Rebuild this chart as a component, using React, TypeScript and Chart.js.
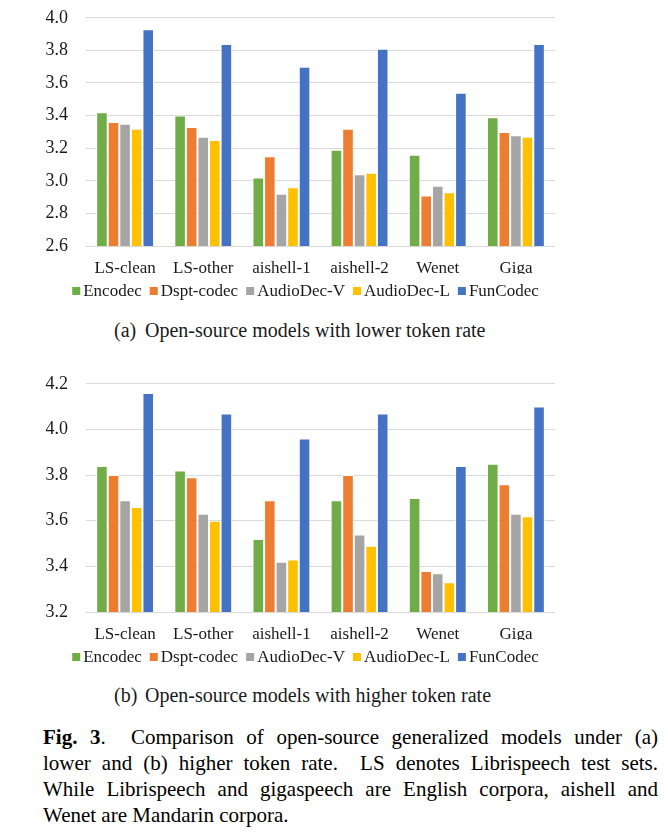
import React, { useEffect, useRef } from "react";
import { Chart, registerables } from "chart.js";
Chart.register(...registerables);

const categories = ["LS-clean", "LS-other", "aishell-1", "aishell-2", "Wenet", "Giga"];
const seriesNames = ["Encodec", "Dspt-codec", "AudioDec-V", "AudioDec-L", "FunCodec"];
const seriesColors = ["#70AD47", "#ED7D31", "#A5A5A5", "#FFC000", "#4472C4"];

// (a) lower token rate
const lowEncodec = [3.42, 3.4, 3.02, 3.19, 3.16, 3.39];
const lowDspt = [3.36, 3.33, 3.15, 3.32, 2.91, 3.3];
const lowAudioDecV = [3.35, 3.27, 2.92, 3.04, 2.97, 3.28];
const lowAudioDecL = [3.32, 3.25, 2.96, 3.05, 2.93, 3.27];
const lowFunCodec = [3.93, 3.84, 3.7, 3.81, 3.54, 3.84];

// (b) higher token rate
const highEncodec = [3.84, 3.82, 3.52, 3.69, 3.7, 3.85];
const highDspt = [3.8, 3.79, 3.69, 3.8, 3.38, 3.76];
const highAudioDecV = [3.69, 3.63, 3.42, 3.54, 3.37, 3.63];
const highAudioDecL = [3.66, 3.6, 3.43, 3.49, 3.33, 3.62];
const highFunCodec = [4.16, 4.07, 3.96, 4.07, 3.84, 4.1];

const lowRange = [2.6, 4.0];
const highRange = [3.2, 4.2];

const FONT = '"Liberation Serif", "Times New Roman", serif';
const TEXT = "#1a1a1a";

// compact legend drawn on the canvas (small square, tight gap)
const compactLegend = {
  id: "compactLegend",
  afterDraw(chart: any) {
    const ctx = chart.ctx;
    const size = 17;
    const box = 8;
    const gap = 3;
    const between = 8;
    ctx.save();
    ctx.font = `${size}px ${FONT}`;
    ctx.textBaseline = "middle";
    ctx.textAlign = "left";
    const items = chart.data.datasets.map((d: any) => ({
      label: d.label,
      color: d.backgroundColor,
      w: ctx.measureText(d.label).width,
    }));
    const total =
      items.reduce((s: number, it: any) => s + box + gap + it.w, 0) + between * (items.length - 1);
    let x = chart.width / 2 - total / 2;
    const y = chart.chartArea.bottom + 45;
    items.forEach((it: any) => {
      ctx.fillStyle = it.color;
      ctx.fillRect(x, y - box / 2, box, box);
      ctx.fillStyle = TEXT;
      ctx.fillText(it.label, x + box + gap, y + 1);
      x += box + gap + it.w + between;
    });
    ctx.restore();
  },
};

function BarChart({ top, series, range }: { top: number; series: number[][]; range: number[] }) {
  const ref = useRef<HTMLCanvasElement | null>(null);
  useEffect(() => {
    if (!ref.current) return;
    const chart = new Chart(ref.current, {
      type: "bar",
      data: {
        labels: categories,
        datasets: series.map((vals, i) => ({
          label: seriesNames[i],
          data: vals,
          backgroundColor: seriesColors[i],
          borderColor: "#ffffff",
          borderWidth: 1,
          barPercentage: 1,
          categoryPercentage: 0.74,
        })),
      },
      options: {
        responsive: false,
        animation: false,
        devicePixelRatio: 1,
        layout: { padding: { top: 6, right: 56, left: 0, bottom: 36 } },
        plugins: {
          tooltip: { enabled: false },
          legend: { display: false },
        },
        scales: {
          x: {
            grid: { display: false, drawTicks: false },
            border: { display: false },
            ticks: { color: TEXT, font: { family: FONT, size: 17 }, padding: 12 },
            afterFit: (s: any) => {
              s.height = 28;
            },
          },
          y: {
            min: range[0],
            max: range[1],
            grid: { color: "#d9d9d9", lineWidth: 1, drawTicks: false },
            border: { display: false },
            ticks: {
              stepSize: 0.2,
              color: TEXT,
              font: { family: FONT, size: 18 },
              padding: 18,
              callback: (v: any) => Number(v).toFixed(1),
            },
            afterFit: (s: any) => {
              s.width = 86;
            },
          },
        },
      },
      plugins: [compactLegend],
    });
    return () => chart.destroy();
  }, []);
  return (
    <canvas
      ref={ref}
      width={611}
      height={321}
      style={{ position: "absolute", left: 0, top, width: 611, height: 321 }}
    />
  );
}

const captionStyle: React.CSSProperties = {
  position: "absolute",
  left: 114,
  fontFamily: FONT,
  fontSize: 20,
  color: TEXT,
  whiteSpace: "pre",
  lineHeight: "24px",
};

const figLines = [
  "Comparison of open-source generalized models under (a)",
  "lower and (b) higher token rate.  LS denotes Librispeech test sets.",
  "While Librispeech and gigaspeech are English corpora, aishell and",
  "Wenet are Mandarin corpora.",
];

export default function App() {
  return (
    <div style={{ position: "absolute", left: 0, top: 0, width: 668, height: 834, background: "#fff", overflow: "hidden" }}>
      <BarChart top={-11} series={[lowEncodec, lowDspt, lowAudioDecV, lowAudioDecL, lowFunCodec]} range={lowRange} />
      <div style={{ ...captionStyle, top: 318 }}>
        <span style={{ display: "inline-block", width: 31 }}>(a)</span>Open-source models with lower token rate
      </div>
      <BarChart top={355} series={[highEncodec, highDspt, highAudioDecV, highAudioDecL, highFunCodec]} range={highRange} />
      <div style={{ ...captionStyle, top: 683 }}>
        <span style={{ display: "inline-block", width: 31 }}>(b)</span>Open-source models with higher token rate
      </div>
      <div
        style={{
          position: "absolute",
          left: 43,
          top: 724,
          width: 615,
          fontFamily: FONT,
          fontSize: 21,
          lineHeight: "26px",
          color: "#000",
        }}
      >
        {figLines.map((t, i) => (
          <div
            key={i}
            style={{
              textAlign: "justify",
              textAlignLast: i < figLines.length - 1 ? "justify" : "left",
              whiteSpace: "pre-wrap",
            }}
          >
            {i === 0 ? (
              <>
                <b>Fig. 3</b>
                {".  " + t}
              </>
            ) : (
              t
            )}
          </div>
        ))}
      </div>
    </div>
  );
}
